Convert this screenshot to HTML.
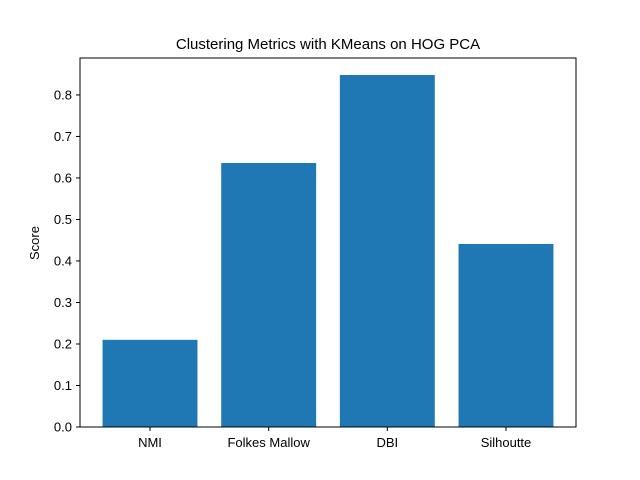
<!DOCTYPE html>
<html><head><meta charset="utf-8"><style>
body{margin:0;background:#fff;}
svg{display:block;font-family:"Liberation Sans","DejaVu Sans",sans-serif;}
</style></head><body>
<svg id="chart" width="640" height="480">
<rect width="640" height="480" fill="#fff"/>
<text x="328" y="49" text-anchor="middle" font-size="15">Clustering Metrics with KMeans on HOG PCA</text>
<text transform="translate(39,243) rotate(-90)" text-anchor="middle" font-size="13">Score</text>
<g id="bars"></g><g id="ticks"></g>
<rect x="80" y="58" width="496" height="369" fill="none" stroke="#000" stroke-width="1"/>
</svg>
<script>
const categories=["NMI","Folkes Mallow","DBI","Silhoutte"];
const scores=[0.21,0.636,0.848,0.441];
const yTicks=[0,0.1,0.2,0.3,0.4,0.5,0.6,0.7,0.8];
const L=80,R=576,T=58,B=427;
const ymax=0.889;
const xmin=-0.59,xmax=categories.length-1+0.59;
const xs=v=>L+(v-xmin)/(xmax-xmin)*(R-L);
const ys=v=>B-v/ymax*(B-T);
const NS="http://www.w3.org/2000/svg";
const bars=document.getElementById('bars'),ticks=document.getElementById('ticks');
function mk(tag,attrs,parent){const e=document.createElementNS(NS,tag);for(const k in attrs)e.setAttribute(k,attrs[k]);parent.appendChild(e);return e;}
categories.forEach((c,i)=>{
  const x0=xs(i-0.4),x1=xs(i+0.4),y=ys(scores[i]);
  const r=mk('rect',{x:x0,y:y,width:x1-x0,height:B-y,fill:'#1f77b4'},bars);
  
  
  const t=mk('line',{x1:xs(i),x2:xs(i),y1:B,y2:B+4,stroke:'#000'},ticks);
  
  
  const l=mk('text',{x:xs(i),y:B+20,'text-anchor':'middle','font-size':'13'},ticks);
  l.textContent=c;
  
  
});
yTicks.forEach(v=>{
  const y=ys(v);
  const t=mk('line',{x1:L-4,x2:L,y1:y,y2:y,stroke:'#000'},ticks);
  
  
  const l=mk('text',{x:L-8,y:y+4.5,'text-anchor':'end','font-size':'13'},ticks);
  l.textContent=v.toFixed(1);
  
  
});
</script>
</body></html>
